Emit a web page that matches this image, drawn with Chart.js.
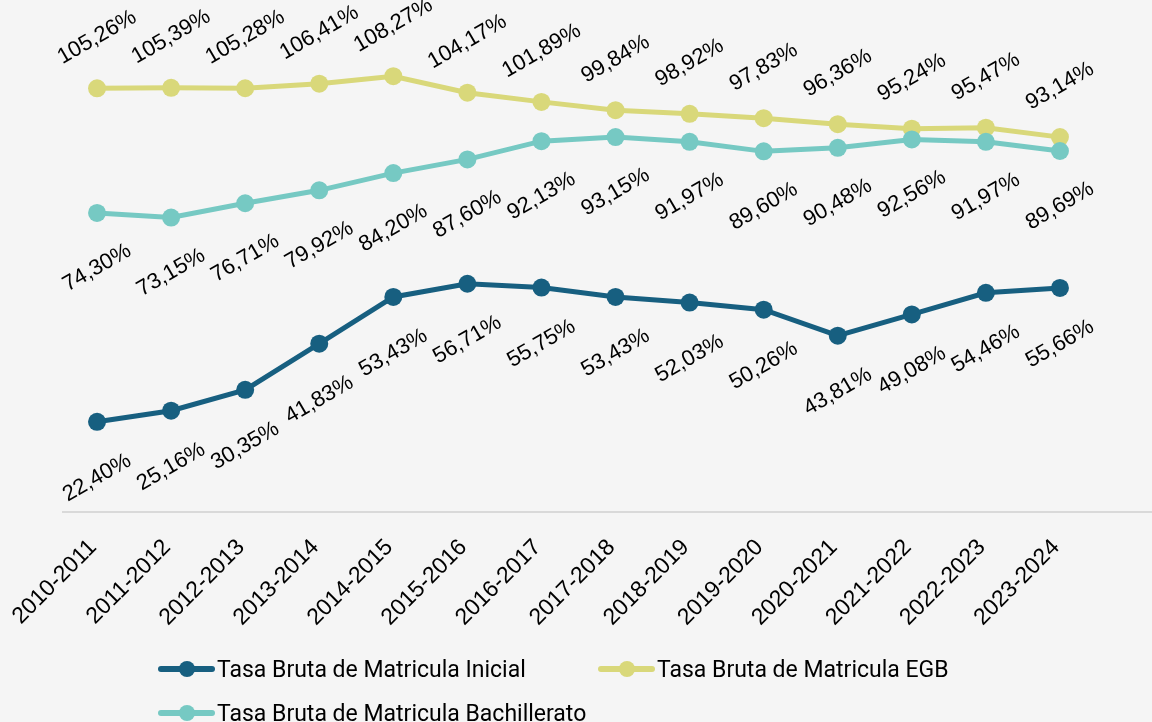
<!DOCTYPE html>
<html>
<head>
<meta charset="utf-8">
<script src="https://cdn.jsdelivr.net/npm/chart.js@4.4.1/dist/chart.umd.min.js"></script>
<style>
    html, body { margin: 0; padding: 0; background: #f5f5f5; }
    #wrap { position: relative; width: 1152px; height: 722px; overflow: hidden; }
    #chart { position: absolute; left: 0; top: 0; }
    .legend { position: absolute; font-family: Roboto, sans-serif; font-size: 23px; color: #000; display: flex; align-items: center; white-space: nowrap; }
    .sym { position: relative; width: 57px; height: 16px; margin-right: 2px; }
    .sym .ln { position: absolute; left: 0; top: 5px; width: 57px; height: 6px; border-radius: 3px; }
    .sym .dot { position: absolute; left: 21px; top: 0; width: 16px; height: 16px; border-radius: 50%; }
</style>
</head>
<body>
<div id="wrap">
    <canvas id="chart" width="1152" height="722"></canvas>
    <div id="legend"></div>
</div>
<script>
// Data
const years = ['2010-2011', '2011-2012', '2012-2013', '2013-2014', '2014-2015', '2015-2016', '2016-2017',
               '2017-2018', '2018-2019', '2019-2020', '2020-2021', '2021-2022', '2022-2023', '2023-2024'];
const inicial = [22.40, 25.16, 30.35, 41.83, 53.43, 56.71, 55.75, 53.43, 52.03, 50.26, 43.81, 49.08, 54.46, 55.66];
const egb = [105.26, 105.39, 105.28, 106.41, 108.27, 104.17, 101.89, 99.84, 98.92, 97.83, 96.36, 95.24, 95.47, 93.14];
const bachillerato = [74.30, 73.15, 76.71, 79.92, 84.20, 87.60, 92.13, 93.15, 91.97, 89.60, 90.48, 92.56, 91.97, 89.69];

const seriesNames = ['Tasa Bruta de Matricula Inicial', 'Tasa Bruta de Matricula EGB', 'Tasa Bruta de Matricula Bachillerato'];
const colors = ['#175f80', '#d9d87a', '#76c9c3'];

function fmt(v) {
    return v.toFixed(2).replace('.', ',') + '%';
}

// rotated value labels, drawn next to each point
const valueLabels = {
    id: 'valueLabels',
    afterDatasetsDraw(chart) {
        const ctx = chart.ctx;
        ctx.save();
        ctx.font = '22px "Liberation Sans", Arial, sans-serif';
        ctx.fillStyle = '#000';
        ctx.textAlign = 'center';
        ctx.textBaseline = 'middle';
        chart.data.datasets.forEach((ds, i) => {
            const meta = chart.getDatasetMeta(i);
            meta.data.forEach((pt, j) => {
                ctx.save();
                ctx.translate(pt.x, pt.y + ds.labelShift);
                ctx.rotate(-Math.PI / 6);
                ctx.fillText(fmt(ds.data[j]), 0, 0);
                ctx.restore();
            });
        });
        ctx.restore();
    }
};

// light baseline running to the right edge
const baseline = {
    id: 'baseline',
    beforeDatasetsDraw(chart) {
        const ctx = chart.ctx;
        const y = chart.scales.y.getPixelForValue(0);
        ctx.save();
        ctx.strokeStyle = '#d9d9d9';
        ctx.lineWidth = 2;
        ctx.beginPath();
        ctx.moveTo(chart.chartArea.left + 2, y);
        ctx.lineTo(chart.width, y);
        ctx.stroke();
        ctx.restore();
    }
};

function makeSet(label, data, color, shift, order) {
    return {
        label: label,
        data: data,
        borderColor: color,
        backgroundColor: color,
        borderWidth: 5,
        pointRadius: 9,
        pointHoverRadius: 9,
        pointBorderWidth: 0,
        tension: 0,
        labelShift: shift,
        order: order
    };
}

new Chart(document.getElementById('chart'), {
    type: 'line',
    data: {
        labels: years,
        datasets: [
            makeSet(seriesNames[0], inicial, colors[0], 56, 2),
            makeSet(seriesNames[1], egb, colors[1], -51, 1),
            makeSet(seriesNames[2], bachillerato, colors[2], 55, 0)
        ]
    },
    options: {
        responsive: false,
        animation: false,
        layout: { padding: { left: 60, right: 55, top: 29, bottom: 0 } },
        plugins: {
            legend: { display: false },
            tooltip: { enabled: false }
        },
        scales: {
            x: {
                offset: true,
                grid: { display: false, drawTicks: false },
                border: { display: false },
                ticks: {
                    autoSkip: false,
                    maxRotation: 45,
                    minRotation: 45,
                    padding: 22,
                    labelOffset: -4,
                    color: '#000',
                    font: { family: '"Liberation Sans", Arial, sans-serif', size: 23 }
                },
                afterFit(scale) {
                    scale.height = 210;
                    scale.paddingLeft = 0;
                    scale.paddingRight = 0;
                }
            },
            y: {
                display: false,
                min: 0,
                max: 120
            }
        }
    },
    plugins: [baseline, valueLabels]
});

// legend as html, two columns like the original
const legendPos = [[158, 669], [598, 669], [158, 713]];
const legendBox = document.getElementById('legend');
seriesNames.forEach((name, i) => {
    const item = document.createElement('div');
    item.className = 'legend';
    item.style.left = legendPos[i][0] + 'px';
    item.style.top = (legendPos[i][1] - 14) + 'px';
    item.style.height = '28px';
    item.innerHTML = '<span class="sym"><span class="ln" style="background:' + colors[i] + '"></span>' +
        '<span class="dot" style="background:' + colors[i] + '"></span></span><span>' + name + '</span>';
    legendBox.appendChild(item);
});
</script>
</body>
</html>
